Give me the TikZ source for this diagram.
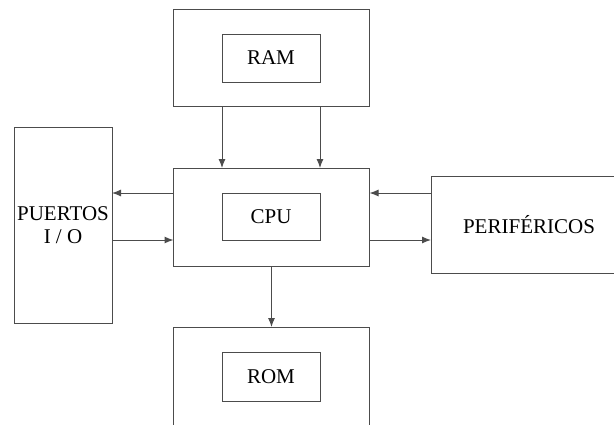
\documentclass[tikz,border=0pt]{standalone}
\usepackage{fontspec}
\setmainfont{Liberation Serif}
\usepackage{tikz}
\usetikzlibrary{arrows.meta}
\tikzset{blk/.style={draw=black!70, line width=1pt, inner sep=0pt, outer sep=0pt, rectangle, font=\fontsize{21}{23}\selectfont, align=center}}
\tikzset{flecha/.style={draw=black!70, line width=1pt, -{Latex[length=9pt,width=7pt]}}}

\begin{document}
\begin{tikzpicture}[x=1pt,y=-1pt]
\useasboundingbox (0,0) rectangle (614,424);
\clip (0,0) rectangle (614,424);
\node[blk, minimum width=196pt, minimum height=97pt] (ram) at (271.5,57.5) {};
\node[blk, minimum width=98pt, minimum height=48pt] (ramin) at (271,58) {RAM};
\node[blk, minimum width=196pt, minimum height=98pt] (cpu) at (271.5,217) {};
\node[blk, minimum width=98pt, minimum height=47pt] (cpuin) at (271,216.5) {CPU};
\node[blk, minimum width=196pt, minimum height=120pt] (rom) at (271.5,387) {};
\node[blk, minimum width=98pt, minimum height=49pt] (romin) at (271,376.5) {ROM};
\node[blk, minimum width=98pt, minimum height=196pt] (puertos) at (63,225) {PUERTOS\\I / O};
\node[blk, minimum width=196pt, minimum height=97pt] (perif) at (529,224.5) {PERIFÉRICOS};
% buses
\draw[flecha] (ramin.west |- ram.south) -- (ramin.west |- cpu.north);
\draw[flecha] (ramin.east |- ram.south) -- (ramin.east |- cpu.north);
\draw[flecha] (cpu.west |- cpuin.north) -- (puertos.east |- cpuin.north);
\draw[flecha] (puertos.east |- cpuin.south) -- (cpu.west |- cpuin.south);
\draw[flecha] (perif.west |- cpuin.north) -- (cpu.east |- cpuin.north);
\draw[flecha] (cpu.east |- cpuin.south) -- (perif.west |- cpuin.south);
\draw[flecha] (cpu.south) -- (rom.north);
\end{tikzpicture}
\end{document}
